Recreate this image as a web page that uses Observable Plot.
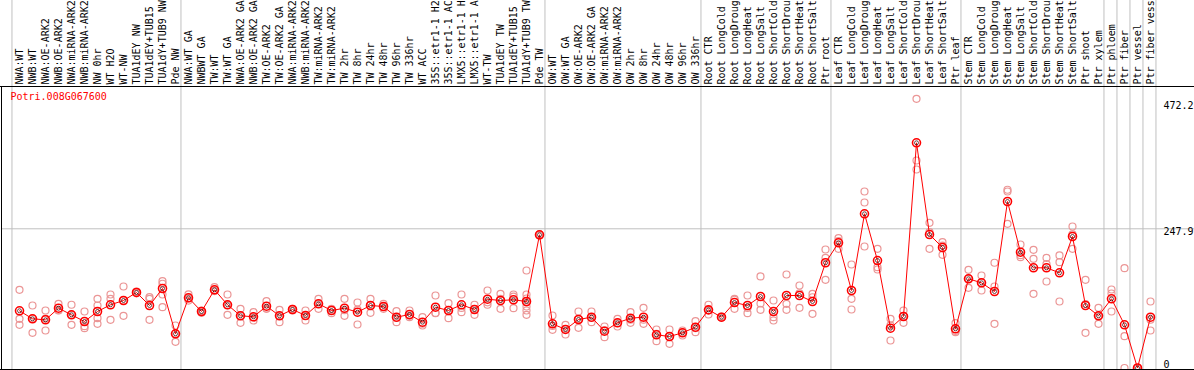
<!DOCTYPE html>
<html><head><meta charset="utf-8">
<script src="https://cdn.jsdelivr.net/npm/d3@7"></script>
<script src="https://cdn.jsdelivr.net/npm/@observablehq/plot@0.6"></script>
<style>body{margin:0;background:#fff}</style>
</head><body><div id="chart"></div>
<script>
const geneName = "Potri.008G067600";
const labels = [
 "NWA:WT","NWB:WT","NWA:OE-ARK2","NWB:OE-ARK2","NWA:miRNA-ARK2","NWB:miRNA-ARK2","NW 0hr","WT H2O","WT-NW","TUA1dEY NW","TUA1dEY+TUB15 NW","TUA1dY+TUB9 NW","Pde NW",
 "NWA:WT GA","NWBWT GA","TW:WT","TW:WT GA","NWA:OE-ARK2 GA","NWB:OE-ARK2 GA","TW:OE-ARK2","TW:OE-ARK2 GA","NWA:miRNA-ARK2 GA","NWB:miRNA-ARK2 GA","TW:miRNA-ARK2","TW:miRNA-ARK2 GA","TW 2hr","TW 8hr","TW 24hr","TW 48hr","TW 96hr","TW 336hr","WT ACC","35S::etr1-1 H2O","35S::etr1-1 ACC","LMX5::etr1-1 H2O","LMX5::etr1-1 ACC","WT-TW","TUA1dEY TW","TUA1dEY+TUB15 TW","TUA1dY+TUB9 TW","Pde TW",
 "OW:WT","OW:WT GA","OW:OE-ARK2","OW:OE-ARK2 GA","OW:miRNA-ARK2","OW:miRNA-ARK2 GA","OW 2hr","OW 8hr","OW 24hr","OW 48hr","OW 96hr","OW 336hr",
 "Root CTR","Root LongCold","Root LongDrought","Root LongHeat","Root LongSalt","Root ShortCold","Root ShortDrought","Root ShortHeat","Root ShortSalt","Ptr root",
 "Leaf CTR","Leaf LongCold","Leaf LongDrought","Leaf LongHeat","Leaf LongSalt","Leaf ShortCold","Leaf ShortDrought","Leaf ShortHeat","Leaf ShortSalt","Ptr leaf",
 "Stem CTR","Stem LongCold","Stem LongDrought","Stem LongHeat","Stem LongSalt","Stem ShortCold","Stem ShortDrought","Stem ShortHeat","Stem ShortSalt","Ptr shoot","Ptr xylem",
 "Ptr phloem","Ptr fiber","Ptr vessel","Ptr fiber vessel"
];
const means = [
 101.9,87.6,85.8,106.5,94.7,82.8,100.6,112.6,120.2,134.5,111.3,141.6,60.9,
 125.0,100.6,139.3,112.6,93.0,91.2,110.1,93.0,104.2,93.5,114.3,102.4,106.5,99.4,111.3,109.5,90.5,95.3,81.6,108.3,102.4,112.6,104.2,122.5,120.2,121.5,118.4,237.2,
 78.7,68.6,86.4,90.5,65.5,80.5,88.7,90.5,59.1,56.1,62.7,72.7,
 103.6,90.5,116.6,111.3,127.3,100.6,129.1,129.1,118.4,187.4,
 223.0,138.0,274.6,191.4,70.9,91.7,401.0,237.7,214.6,69.8,
 158.9,151.7,136.2,296.5,206.2,178.4,178.4,169.5,234.2,111.3,93.0,
 123.2,76.9,0,90.5
];
const replicates = [
 [139.3,87.6,76.9],[111.3,88,62.7],[102.4,88,66.8],[114.3,102.4,103],[112.6,94.7,76.9],[100.6,74.4,70.9],[123.2,111.3,88.7,78.7],[130.9,123.2,85.8],[145.1,120.2,93],[133,135,136],[126.1,123.2,85.8],[154.6,150,130.9,108.3],[75.7,61,46.7],
 [131,124,120],[102.4,101,98.3],[143.9,138,137],[130.9,112,94.7],[105.4,93,80.5],[99.4,90,84.6],[119,106,105.4],[103.6,93,81.6],[105.4,104.5,102.4],[102.4,93,84.6],[123.2,114,105.4],[105.4,104,97.6],[123.2,103,93],[116.6,104,77.5],[123.2,112,98.3],[114.3,109,105.4],[101.2,89,81.6],[102.4,93,90.5],[90.5,79,75.7],[129.1,98,97.6],[115.4,103,88.7],[130.9,107,99.4],[112.6,105,94.7],[138,117,112.6],[132.1,123,105.4],[130.9,127,106.5],[173.6,130.9,123.8,116.6,109.5,102.4,94.7],[238,237,236],
 [93.5,75,68],[76.9,69,59.7],[100.6,87,71.6],[100.6,89,81.6],[73.9,67,54.9],[87.6,80,73.9],[99.4,86,80.5],[107.2,86,78.7],[68.6,61,47.7],[68.6,56,43.1],[66.8,63,57.9],[83.3,71,63.8],
 [112.6,103,95.3],[91.7,90,90],[123,121.5,105.4],[129.1,107,97.6],[163,114.9,103.6],[120.2,90.5,84.6],[166.5,114.3,103.6],[146.9,133,107.2],[132.1,126,96.5],[211,196.2,157.1],
 [231.2,226,212.3],[184.3,123.2,104.2],[314.3,294.7,216.4],[212.3,179.5,175.4],[87.6,76,49],[102.4,92,80.5],[479.4,369.5,353.5],[258.6,242,212.3],[224,218,201.6],[79.8,66,63.8],
 [174.9,159,142.8],[164.7,152,138],[187.4,145.1,78.7],[317.4,314.3,256.8],[219.9,201,197.3],[210.5,194.5,132.1],[196.2,185,154],[200.4,188.4,118.4],[252,238,212.3],[157.1,114,62.7],[107.2,93,78.7],
 [139.8,132.7,100.6],[177.7,56.6,0],[0,0,0],[118.4,86,66.8]
];
const groupEnds = [-1, 12, 40, 52, 62, 72, 83, 84, 85, 86, 87];
const yTickLabels = [472.2, 247.9, 0];
const gridValues = [247.9];

const xDomain = [-18/13, 1175/13];
const yDomain = [-2.67, 501.3];

const meanData = means.map((v, i) => ({i, v}));
const repData = replicates.flatMap((arr, i) => arr.map(v => ({i, v})));

const chart = Plot.plot({
  width: 1194, height: 370,
  marginTop: 86, marginBottom: 1, marginLeft: 1, marginRight: 0,
  style: {fontFamily: "'DejaVu Sans Mono', monospace", fontSize: "10px", background: "#fff", color: "#000", overflow: "hidden"},
  x: {type: "linear", domain: xDomain, axis: null},
  y: {domain: yDomain, axis: null},
  marks: [
    Plot.ruleY(gridValues, {stroke: "#c0c0c0", strokeWidth: 1}),
    Plot.ruleX(groupEnds, {x: d => d + 0.42, stroke: "#c0c0c0", strokeWidth: 1, insetTop: -86}),
    Plot.dot(repData, {x: "i", y: "v", r: 3.5, stroke: "#eb9696", strokeWidth: 1.2}),
    Plot.line(meanData, {x: "i", y: "v", stroke: "#ff0000", strokeWidth: 1}),
    Plot.dot(meanData, {x: "i", y: "v", r: 4, stroke: "#ff0000", strokeWidth: 1.6}),
    Plot.dot(meanData, {x: "i", y: "v", r: 2, stroke: "#300", strokeWidth: 0.7}),
    Plot.ruleY([yDomain[1]], {stroke: "#000", insetLeft: -1}),
    Plot.ruleY([yDomain[0]], {stroke: "#000", insetLeft: -1}),
    Plot.ruleX([xDomain[0]], {stroke: "#000"}),
    Plot.text(labels, {x: (d, i) => i, text: d => d, frameAnchor: "top", dy: -2, rotate: -90, textAnchor: "start", lineAnchor: "middle", fill: "#000"}),
    Plot.text([geneName], {frameAnchor: "top-left", dx: 9, dy: 6, textAnchor: "start", lineAnchor: "top", fill: "#ff0000"}),
    Plot.text(yTickLabels.filter(d => d !== 0), {x: () => labels.length, y: d => d, text: d => String(d), textAnchor: "start", lineAnchor: "top", dy: -1, fill: "#000"}),
    Plot.text(yTickLabels.filter(d => d === 0), {x: () => labels.length, y: d => d, text: d => String(d), textAnchor: "start", lineAnchor: "bottom", fill: "#000"})
  ]
});
document.getElementById("chart").appendChild(chart);
</script>
</body></html>
